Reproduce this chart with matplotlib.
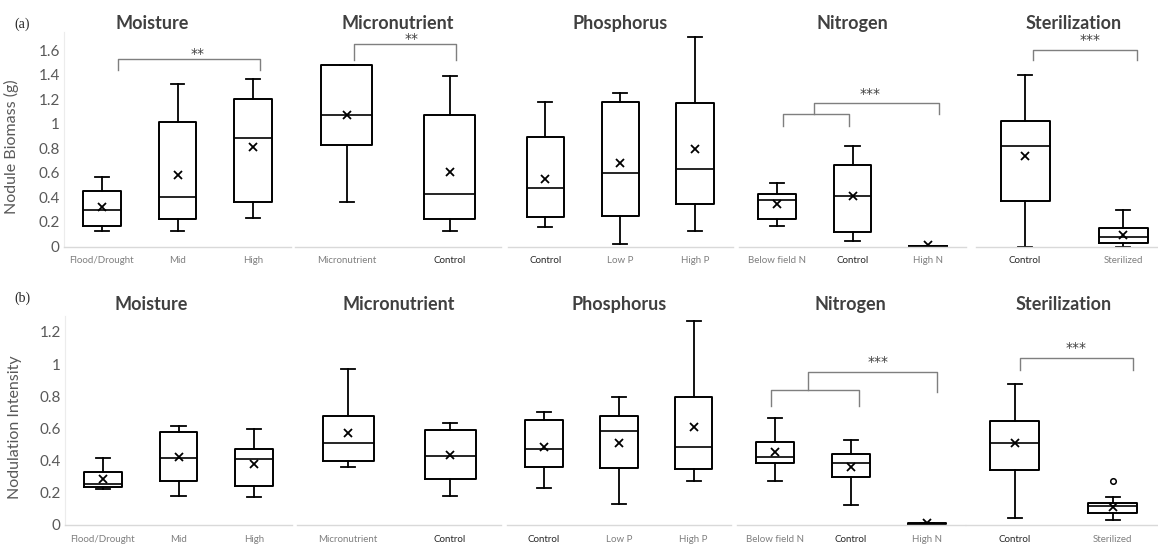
import matplotlib.pyplot as plt

plt.rcParams['font.family'] = ['Lato', 'DejaVu Sans']

# ---- data: each box is (low whisker, Q1, median, Q3, high whisker, mean) ----
moisture_labels = ["Flood/Drought", "Mid", "High"]
micro_labels = ["Micronutrient", "Control"]
phos_labels = ["Control", "Low P", "High P"]
nitro_labels = ["Below field N", "Control", "High N"]
steril_labels = ["Control", "Sterilized"]

biomass_moisture = [(0.13, 0.17, 0.30, 0.45, 0.57, 0.32),
                    (0.13, 0.22, 0.40, 1.01, 1.32, 0.58),
                    (0.23, 0.36, 0.88, 1.20, 1.36, 0.81)]
biomass_micro = [(0.36, 0.83, 1.07, 1.48, 1.48, 1.07),
                 (0.13, 0.22, 0.43, 1.07, 1.39, 0.61)]
biomass_phos = [(0.16, 0.24, 0.48, 0.89, 1.18, 0.55),
                (0.02, 0.25, 0.60, 1.18, 1.25, 0.68),
                (0.13, 0.35, 0.63, 1.17, 1.71, 0.79)]
biomass_nitro = [(0.17, 0.22, 0.38, 0.43, 0.52, 0.35),
                 (0.045, 0.12, 0.41, 0.66, 0.82, 0.41),
                 (0.0, 0.002, 0.004, 0.006, 0.008, 0.01)]
biomass_steril = [(0.0, 0.37, 0.82, 1.02, 1.40, 0.74),
                  (0.0, 0.03, 0.075, 0.15, 0.30, 0.09)]

intensity_moisture = [(0.226, 0.234, 0.255, 0.327, 0.418, 0.286),
                      (0.18, 0.275, 0.418, 0.576, 0.617, 0.424),
                      (0.172, 0.24, 0.408, 0.472, 0.594, 0.379)]
intensity_micro = [(0.36, 0.40, 0.511, 0.675, 0.967, 0.569),
                   (0.18, 0.284, 0.429, 0.59, 0.634, 0.435)]
intensity_phos = [(0.228, 0.358, 0.47, 0.652, 0.702, 0.486),
                  (0.128, 0.356, 0.584, 0.677, 0.797, 0.511),
                  (0.271, 0.348, 0.484, 0.795, 1.267, 0.611)]
intensity_nitro = [(0.275, 0.383, 0.422, 0.514, 0.663, 0.451),
                   (0.124, 0.296, 0.383, 0.439, 0.53, 0.362),
                   (0.004, 0.006, 0.008, 0.01, 0.012, 0.01)]
intensity_steril = [(0.041, 0.342, 0.511, 0.648, 0.874, 0.507),
                    (0.031, 0.075, 0.118, 0.137, 0.176, 0.114)]
intensity_steril_outliers = [[], [0.275]]

W, H = 1158, 545
fig = plt.figure(figsize=(W / 100, H / 100), dpi=100)

GRAY_TXT = '#595959'
TITLE_C = '#404040'
AXIS_C = '#d9d9d9'
BRACKET_C = '#7f7f7f'
DARK_LABELS = {"Control"}


def make_stats(rows, outliers=None):
    out = []
    for i, (lo, q1, med, q3, hi, mean) in enumerate(rows):
        fl = outliers[i] if outliers else []
        out.append(dict(whislo=lo, q1=q1, med=med, q3=q3, whishi=hi, mean=mean, fliers=fl))
    return out


def panel(px_left, px_right, ybot, ytop, ymax, rows, labels, title, spacing,
          outliers=None, title_x=0.5, title_pad=2):
    ax = fig.add_axes([px_left / W, (H - ybot) / H, (px_right - px_left) / W, (ybot - ytop) / H])
    pos = list(range(len(labels)))
    ax.bxp(make_stats(rows, outliers), positions=pos, widths=0.5,
           capwidths=14 / spacing, showmeans=True, showfliers=True,
           boxprops=dict(color='black', lw=1.4),
           medianprops=dict(color='black', lw=1.2),
           whiskerprops=dict(color='black', lw=1.3),
           capprops=dict(color='black', lw=1.3),
           meanprops=dict(marker='x', markeredgecolor='black', markersize=6, mew=1.3),
           flierprops=dict(marker='o', markerfacecolor='none', markeredgecolor='black',
                           markersize=4, mew=1.1))
    ax.set_xlim(-0.5, len(labels) - 0.5)
    ax.set_ylim(0, ymax)
    ax.set_xticks(pos, labels)
    for t, lab in zip(ax.get_xticklabels(), labels):
        t.set_color('#262626' if lab in DARK_LABELS else '#7f7f7f')
        t.set_fontsize(7)
    ax.tick_params(axis='x', length=0, pad=7)
    ax.tick_params(axis='y', length=0)
    ax.set_yticks([])
    for s in ['top', 'right', 'left']:
        ax.spines[s].set_visible(False)
    ax.spines['bottom'].set_color(AXIS_C)
    ax.spines['bottom'].set_linewidth(1.0)
    ax.set_title(title, fontsize=13, fontweight='bold', color=TITLE_C, x=title_x, pad=title_pad)
    ax.patch.set_alpha(0)
    return ax


def first_axis(ax, ticks, labels, ylabel, label_x, label_y):
    ax.set_yticks(ticks, labels)
    ax.tick_params(axis='y', labelsize=11, labelcolor=GRAY_TXT, pad=3)
    ax.spines['left'].set_visible(True)
    ax.spines['left'].set_color('#ececec')
    ax.set_ylabel(ylabel, fontsize=11.5, color=GRAY_TXT)
    ax.yaxis.set_label_coords(label_x, label_y)


def stars_text(ax, sx, sy, stars):
    ax.text(sx, sy, stars, ha='center', va='center', fontsize=10, color=TITLE_C,
            family=['DejaVu Sans'], clip_on=False)


def bracket(ax, x0, x1, ytop, yleg, stars, sx, sy):
    ax.plot([x0, x0, x1, x1], [yleg, ytop, ytop, yleg], color=BRACKET_C, lw=1.0, clip_on=False)
    stars_text(ax, sx, sy, stars)


def nested_bracket(ax, a0, a1, atop, aleg, stem_x, top, right_x, right_leg, stars, sx, sy):
    ax.plot([a0, a0, a1, a1], [aleg, atop, atop, aleg], color=BRACKET_C, lw=1.0, clip_on=False)
    ax.plot([stem_x, stem_x, right_x, right_x], [atop, top, top, right_leg],
            color=BRACKET_C, lw=1.0, clip_on=False)
    stars_text(ax, sx, sy, stars)


# ---- row (a): nodule biomass ----
ya_bot, ya_max = 246.5, 1.75
ya_top = ya_bot - ya_max * 122.8
a1 = panel(64, 291, ya_bot, ya_top, ya_max, biomass_moisture, moisture_labels, "Moisture", 75.7, title_x=0.39)
a2 = panel(295, 501, ya_bot, ya_top, ya_max, biomass_micro, micro_labels, "Micronutrient", 103)
a3 = panel(508, 732.5, ya_bot, ya_top, ya_max, biomass_phos, phos_labels, "Phosphorus", 74.75)
a4 = panel(739, 966, ya_bot, ya_top, ya_max, biomass_nitro, nitro_labels, "Nitrogen", 75.5)
a5 = panel(976, 1172, ya_bot, ya_top, ya_max, biomass_steril, steril_labels, "Sterilization", 98)
first_axis(a1, [0, 0.2, 0.4, 0.6, 0.8, 1.0, 1.2, 1.4, 1.6],
           ["0", "0.2", "0.4", "0.6", "0.8", "1", "1.2", "1.4", "1.6"],
           "Nodule Biomass (g)", -0.2, 0.463)

bracket(a1, 0.215, 2.09, 1.53, 1.44, "**", 1.26, 1.565)
bracket(a2, 0.07, 1.06, 1.65, 1.52, "**", 0.63, 1.69)
nested_bracket(a4, 0.08, 0.96, 1.08, 0.98, 0.49, 1.17, 2.14, 1.08, "***", 1.23, 1.24)
bracket(a5, 0.08, 1.14, 1.60, 1.52, "***", 0.66, 1.68)

# ---- row (b): nodulation intensity ----
yb_bot, yb_max = 525, 1.3
yb_top = yb_bot - yb_max * 161
b1 = panel(65, 292, yb_bot, yb_top, yb_max, intensity_moisture, moisture_labels, "Moisture", 75.5,
           title_x=0.38, title_pad=4)
b2 = panel(297, 501, yb_bot, yb_top, yb_max, intensity_micro, micro_labels, "Micronutrient", 102,
           title_pad=4)
b3 = panel(506.6, 731, yb_bot, yb_top, yb_max, intensity_phos, phos_labels, "Phosphorus", 74.75,
           title_pad=4)
b4 = panel(736.7, 964.7, yb_bot, yb_top, yb_max, intensity_nitro, nitro_labels, "Nitrogen", 76,
           title_pad=4)
b5 = panel(965.7, 1161.8, yb_bot, yb_top, yb_max, intensity_steril, steril_labels, "Sterilization", 98,
           outliers=intensity_steril_outliers, title_pad=4)
first_axis(b1, [0, 0.2, 0.4, 0.6, 0.8, 1.0, 1.2],
           ["0", "0.2", "0.4", "0.6", "0.8", "1", "1.2"],
           "Nodulation Intensity", -0.19, 0.466)

nested_bracket(b4, -0.05, 1.11, 0.838, 0.739, 0.44, 0.952, 2.14, 0.824, "***", 1.36, 1.015)
bracket(b5, 0.05, 1.21, 1.035, 0.963, "***", 0.63, 1.097)

fig.text(21.7 / W, 1 - 24 / H, "(a)", family=['Liberation Serif', 'DejaVu Serif'],
         fontsize=10, ha='center', va='center', color='#262626')
fig.text(22 / W, 1 - 298 / H, "(b)", family=['Liberation Serif', 'DejaVu Serif'],
         fontsize=10, ha='center', va='center', color='#262626')

fig.savefig('out.png', dpi=100)
